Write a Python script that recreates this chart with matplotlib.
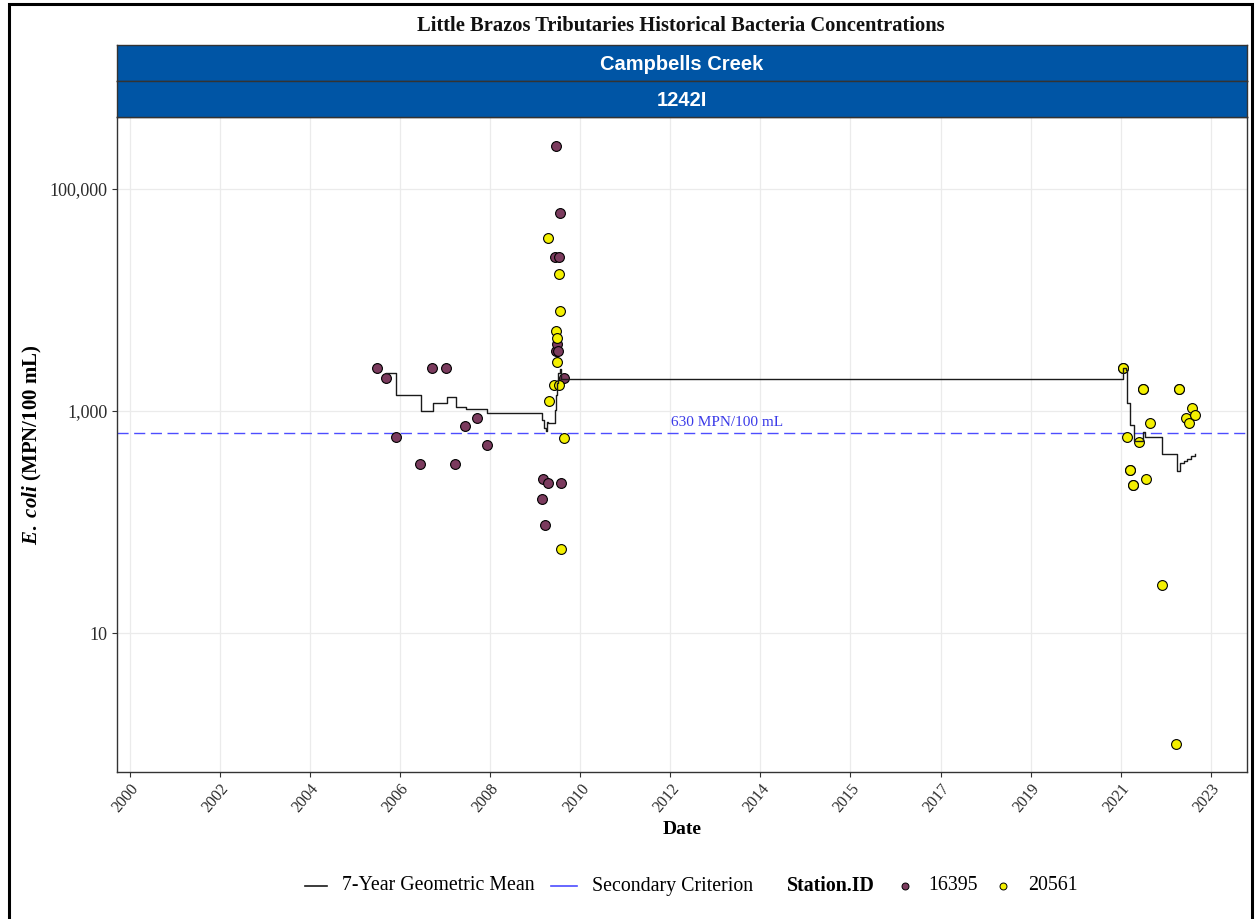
import numpy as np
import matplotlib
matplotlib.use("Agg")
import matplotlib.pyplot as plt
from matplotlib.lines import Line2D
from matplotlib.patches import Rectangle
from matplotlib.ticker import FixedLocator, NullLocator, FixedFormatter

plt.rcParams['font.family'] = ['Liberation Serif', 'DejaVu Serif']
plt.rcParams['mathtext.fontset'] = 'custom'
plt.rcParams['mathtext.it'] = 'Liberation Serif:italic:bold'
plt.rcParams['mathtext.rm'] = 'Liberation Serif:bold'

# ---- E. coli samples (decimal year, MPN/100 mL) ----
st16395_year = [2005.875, 2006.08, 2006.29, 2006.80, 2007.06, 2007.35, 2007.55,
                2007.75, 2008.01, 2008.22, 2009.40, 2009.42, 2009.46, 2009.52,
                2009.66, 2009.68, 2009.68, 2009.72, 2009.73, 2009.75, 2009.78,
                2009.80, 2009.86]
st16395_ecoli = [2420, 2000, 580, 335, 2420, 2420, 335,
                 738, 870, 497, 161, 245, 94, 226,
                 24200, 241960, 3490, 4000, 3450, 24200, 61000,
                 226, 2000]

st20561_year = [2009.51, 2009.54, 2009.65, 2009.69, 2009.72, 2009.72, 2009.75,
                2009.75, 2009.78, 2009.80, 2009.87,
                2021.75, 2021.75, 2021.83, 2021.90, 2021.90, 2021.97, 2021.97,
                2022.09, 2022.18, 2022.18, 2022.25, 2022.33, 2022.58, 2022.88,
                2022.95, 2022.95, 2023.09, 2023.16, 2023.22, 2023.29]
st20561_ecoli = [36500, 1223, 1714, 5280, 4570, 2780, 17150,
                 1714, 8000, 57, 571,
                 2420, 2420, 587, 296, 296, 217, 217,
                 529, 1589, 1589, 245, 780, 27, 1,
                 1589, 1589, 870, 780, 1064, 926]

# ---- 7-year rolling geometric mean ----
geomean_year = [2006.067, 2006.286, 2006.811, 2007.067, 2007.365, 2007.563,
                2007.769, 2008.229, 2009.399, 2009.435, 2009.471, 2009.505,
                2009.520, 2009.669, 2009.684, 2009.705, 2009.739, 2009.776,
                2009.800, 2021.760, 2021.810, 2021.830, 2021.900, 2021.990,
                2022.170, 2022.230, 2022.590, 2022.900, 2022.970, 2023.050,
                2023.120, 2023.190, 2023.290]
geomean_ecoli = [2213, 1402, 1006, 1188, 1329, 1093,
                 1042, 953, 829, 700, 664, 801,
                 785, 1021, 1394, 1776, 2187, 2376,
                 1930, 2455, 2339, 1188, 748, 537,
                 651, 580, 410, 290, 338, 354,
                 369, 390, 407]

criterion = 630
criterion_label = "630 MPN/100 mL"

x_tick_labels = ["2000", "2002", "2004", "2006", "2008", "2010", "2012",
                 "2014", "2015", "2017", "2019", "2021", "2023"]
y_ticks = [10, 1000, 100000]
y_tick_labels = ["10", "1,000", "100,000"]

maroon = "#7B3B5E"
yellow = "#F4F000"
blue_strip = "#0055A5"
crit_blue = "#4D4DFF"

W, H = 1259, 919
fig = plt.figure(figsize=(W / 100, H / 100), dpi=100)


def fx(px):
    return px / W


def fy(py):
    return 1 - py / H


# panel box in pixels
PL, PR, PT, PB = 117, 1247, 117, 772
ax = fig.add_axes([fx(PL), fy(PB), (PR - PL) / W, (PB - PT) / H])

ax.set_yscale('log')
ax.set_xlim(2000.35, 2024.39)
ax.set_ylim(0.56, 445000)

tick_pos = 2000.62 + np.arange(len(x_tick_labels)) * 23 / 12
ax.xaxis.set_major_locator(FixedLocator(tick_pos))
ax.xaxis.set_major_formatter(FixedFormatter(x_tick_labels))
ax.xaxis.set_minor_locator(NullLocator())
ax.yaxis.set_major_locator(FixedLocator(y_ticks))
ax.yaxis.set_major_formatter(FixedFormatter(y_tick_labels))
ax.yaxis.set_minor_locator(NullLocator())

ax.grid(True, which='major', color='#EBEBEB', lw=0.9)
ax.set_axisbelow(True)
for s in ax.spines.values():
    s.set_color('#333333')
    s.set_linewidth(1.0)

ax.tick_params(axis='both', length=3.5, width=0.8, color='#333333',
               labelcolor='#2B2B2B')
ax.tick_params(axis='y', labelsize=13)
ax.tick_params(axis='x', labelsize=11.5, pad=3)
plt.setp(ax.get_xticklabels(), rotation=50, ha='right', rotation_mode='anchor')

# criterion line and label
ax.axhline(criterion, color=crit_blue, lw=1.0, ls=(0, (8, 4)), zorder=2)
ax.text(2013.33, criterion * 1.09, criterion_label, color='#3A3AE8',
        fontsize=11, ha='center', va='bottom')

# samples
ax.scatter(st16395_year, st16395_ecoli, s=50, c=maroon, edgecolors='black',
           linewidths=0.8, zorder=3)
ax.scatter(st20561_year, st20561_ecoli, s=50, c=yellow, edgecolors='black',
           linewidths=0.8, zorder=3)

# geometric mean
ax.step(geomean_year, geomean_ecoli, where='post', color='#1A1A1A', lw=1.0,
        zorder=4)

ax.set_xlabel("Date", fontsize=14, fontweight='bold', labelpad=4)
ax.set_ylabel(r"$\it{E.\ coli}$ (MPN/100 mL)", fontsize=15, fontweight='bold',
              labelpad=4)

# facet strips
for (top, bot, label) in [(45, 81, "Campbells Creek"), (81, 117, "1242I")]:
    sax = fig.add_axes([fx(PL), fy(bot), (PR - PL) / W, (bot - top) / H])
    sax.set_facecolor(blue_strip)
    sax.set_xticks([])
    sax.set_yticks([])
    for s in sax.spines.values():
        s.set_color('#333333')
        s.set_linewidth(1.0)
    sax.text(0.5, 0.45, label, transform=sax.transAxes, ha='center',
             va='center', color='white', fontsize=14.5, fontweight='bold',
             family=['Liberation Sans', 'DejaVu Sans'])

# title
fig.text(fx(681), fy(26), "Little Brazos Tributaries Historical Bacteria Concentrations",
         ha='center', va='center', fontsize=14.8, fontweight='bold', color='#111111')

# legend
ly = fy(886)
fig.add_artist(Line2D([fx(305), fx(327)], [ly, ly], color='#1A1A1A', lw=1.2))
fig.text(fx(342), ly, "7-Year Geometric Mean", ha='left', va='center', fontsize=14.3)
fig.add_artist(Line2D([fx(551), fx(577)], [ly, ly], color=crit_blue, lw=1.2))
fig.text(fx(592), ly, "Secondary Criterion", ha='left', va='center', fontsize=14.3)
fig.text(fx(787), ly, "Station.ID", ha='left', va='center', fontsize=14.3,
         fontweight='bold')
fig.add_artist(Line2D([fx(905)], [ly], marker='o', ms=5, mfc=maroon,
                      mec='black', mew=0.7, ls='none'))
fig.text(fx(928), ly, "16395", ha='left', va='center', fontsize=14.3)
fig.add_artist(Line2D([fx(1003)], [ly], marker='o', ms=5, mfc=yellow,
                      mec='black', mew=0.7, ls='none'))
fig.text(fx(1028), ly, "20561", ha='left', va='center', fontsize=14.3)

# outer frame
fig.add_artist(Rectangle((fx(9), fy(930)), (1252 - 9) / W, (930 - 4) / H,
                         fill=False, ec='black', lw=2.2, transform=fig.transFigure))

fig.savefig("out.png", dpi=100)
